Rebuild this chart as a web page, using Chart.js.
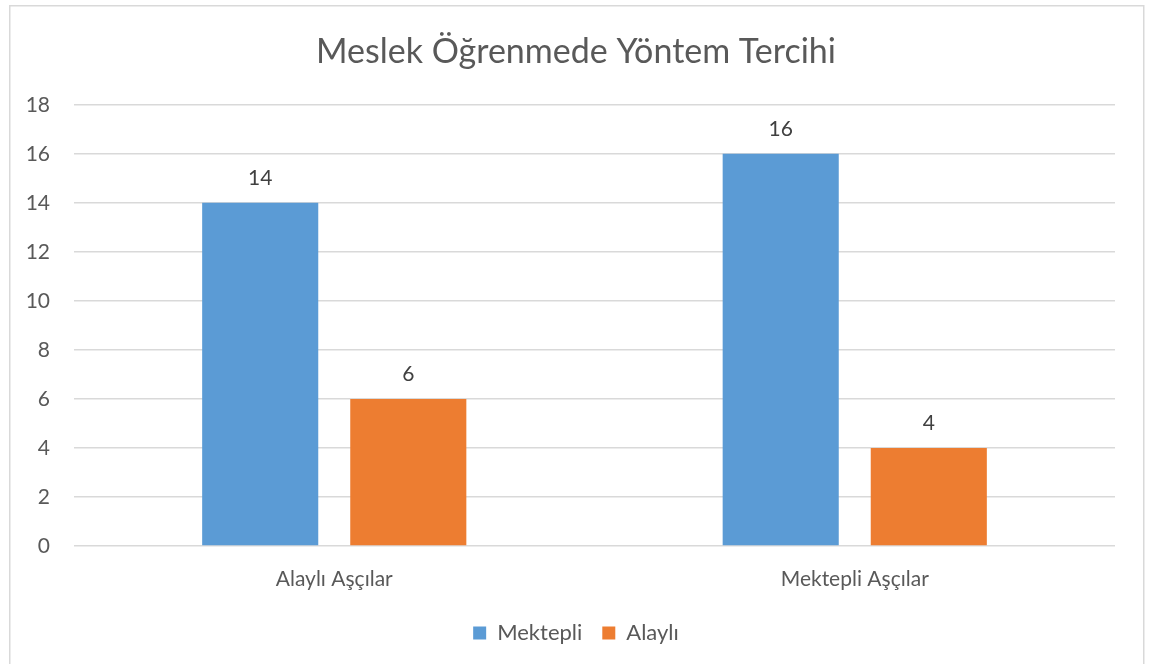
<!DOCTYPE html>
<html>
<head>
<meta charset="utf-8">
<script src="https://cdn.jsdelivr.net/npm/chart.js@4/dist/chart.umd.min.js"></script>
<style>
html,body{margin:0;padding:0;background:#fff;}
#wrap{position:relative;width:1152px;height:664px;}
</style>
</head>
<body>
<div id="wrap"><canvas id="c" width="1152" height="664"></canvas></div>
<script>
const categories = ["Alaylı Aşçılar", "Mektepli Aşçılar"];
const seriesNames = ["Mektepli", "Alaylı"];
const mektepliValues = [14, 16];
const alayliValues = [6, 4];
const yTicks = [0, 2, 4, 6, 8, 10, 12, 14, 16, 18];
const chartTitle = "Meslek Öğrenmede Yöntem Tercihi";

const FONT = "Lato, 'Open Sans', sans-serif";

const borderPlugin = {
  id: 'outerBorder',
  beforeDraw(chart) {
    const ctx = chart.ctx;
    ctx.save();
    ctx.fillStyle = '#ffffff';
    ctx.fillRect(0, 0, chart.width, chart.height);
    ctx.strokeStyle = '#d9d9d9';
    ctx.lineWidth = 1.5;
    ctx.strokeRect(9.75, 5.75, 1134, 700);
    ctx.restore();
  }
};

const dataLabelPlugin = {
  id: 'valueLabels',
  afterDatasetsDraw(chart) {
    const ctx = chart.ctx;
    ctx.save();
    ctx.font = "21px " + FONT;
    ctx.fillStyle = '#404040';
    ctx.textAlign = 'center';
    ctx.textBaseline = 'middle';
    chart.data.datasets.forEach((ds, i) => {
      const meta = chart.getDatasetMeta(i);
      meta.data.forEach((el, j) => {
        ctx.fillText(String(ds.data[j]), el.x, el.y - 25);
      });
    });
    ctx.restore();
  }
};

new Chart(document.getElementById('c'), {
  type: 'bar',
  data: {
    labels: categories,
    datasets: [
      { label: seriesNames[0], data: mektepliValues, backgroundColor: '#5b9bd5',
        categoryPercentage: 0.569, barPercentage: 0.784 },
      { label: seriesNames[1], data: alayliValues, backgroundColor: '#ed7d31',
        categoryPercentage: 0.569, barPercentage: 0.784 }
    ]
  },
  options: {
    responsive: false,
    animation: false,
    devicePixelRatio: 1,
    layout: { padding: { left: 10, right: 10, top: 0, bottom: 10 } },
    plugins: {
      title: {
        display: true, text: chartTitle, color: '#595959',
        font: { family: FONT, size: 34, weight: 'normal' },
        padding: { top: 32, bottom: 32 }
      },
      legend: {
        position: 'bottom',
        labels: {
          color: '#595959', boxWidth: 13, boxHeight: 13, padding: 20,
          font: { family: FONT, size: 22 }
        }
      },
      tooltip: { enabled: false }
    },
    scales: {
      x: {
        grid: { display: false, drawTicks: false },
        border: { display: false },
        ticks: { color: '#595959', font: { family: FONT, size: 21 }, padding: 21 },
        afterFit(scale) { scale.height = 56; }
      },
      y: {
        min: 0, max: 18,
        grid: { color: '#d9d9d9', lineWidth: 1.5, drawTicks: false },
        border: { display: false },
        ticks: { color: '#595959', font: { family: FONT, size: 21 }, padding: 24, stepSize: 2,
                 callback: (v) => yTicks.includes(v) ? String(v) : '' },
        afterFit(scale) { scale.width = 64; }
      },
      yRight: {
        position: 'right',
        min: 0, max: 18,
        grid: { display: false, drawTicks: false },
        border: { display: false },
        ticks: { display: false },
        afterFit(scale) { scale.width = 27; }
      }
    }
  },
  plugins: [borderPlugin, dataLabelPlugin]
});
</script>
</body>
</html>
